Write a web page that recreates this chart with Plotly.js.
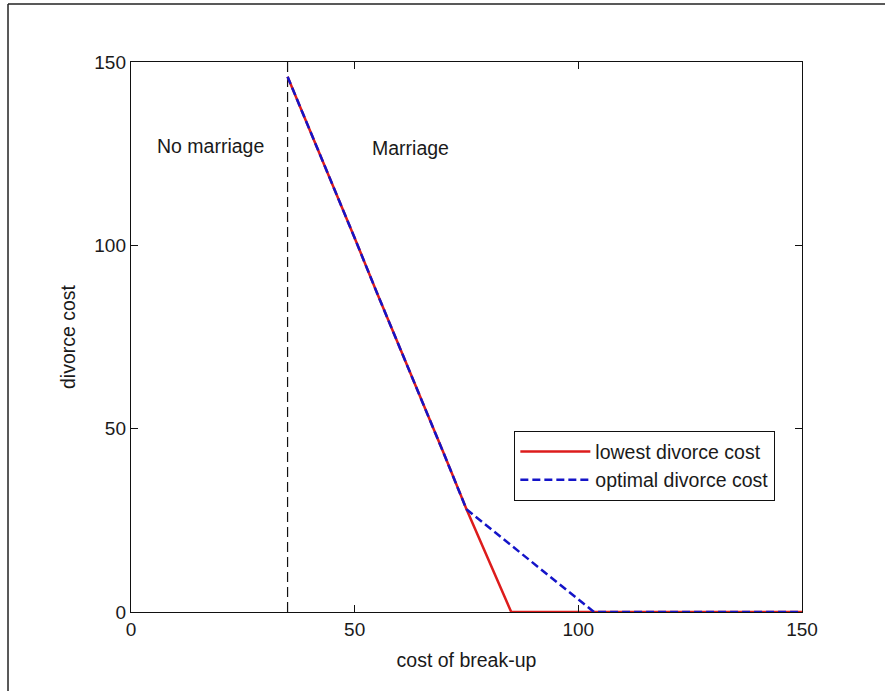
<!DOCTYPE html>
<html>
<head>
<meta charset="utf-8">
<script src="https://cdn.plot.ly/plotly-3.0.1.min.js"></script>
<style>html,body{margin:0;padding:0;background:#fff;}#chart{width:885px;height:691px;}</style>
</head>
<body>
<div id="chart"></div>
<script>
// Data
const lowestX = [35, 40, 45, 50, 55, 60, 65, 70, 75, 85, 150];
const lowestY = [146, 131.5, 117, 102, 87, 72.5, 58, 43, 28, 0, 0];
const optimalX = [35, 40, 45, 50, 55, 60, 65, 70, 75, 103.5, 150];
const optimalY = [146, 131.5, 117, 102, 87, 72.5, 58, 43, 28, 0, 0];
const boundaryX = [35, 35];
const boundaryY = [0, 150];
const seriesNames = ["lowest divorce cost", "optimal divorce cost"];
const regionLabels = ["No marriage", "Marriage"];
const regionLabelX = [17.7, 62.4];
const regionLabelY = [127, 126.6];
const tickVals = [0, 50, 100, 150];

const family = "Liberation Sans, Arial, sans-serif";
const font = {family: family, size: 19.5, color: "#1a1a1a"};
const tickFont = {family: family, size: 19, color: "#1a1a1a"};

const traces = [
  {x: boundaryX, y: boundaryY, mode: "lines", showlegend: false, hoverinfo: "skip",
   line: {color: "#111", width: 1.2, dash: "10px,5px"}},
  {x: lowestX, y: lowestY, mode: "lines", name: seriesNames[0],
   line: {color: "#dd1c1c", width: 2.5}},
  {x: optimalX, y: optimalY, mode: "lines", name: seriesNames[1],
   line: {color: "#1414c8", width: 2.5, dash: "8px,4px"}}
];

const axisCommon = {
  range: [0, 150], tickvals: tickVals, ticks: "inside", ticklen: 7, tickcolor: "#111",
  showline: true, linecolor: "#111", linewidth: 1.2, mirror: "ticks",
  showgrid: false, zeroline: false, tickfont: tickFont
};

const layout = {
  width: 885, height: 691,
  margin: {l: 131, r: 83, t: 62, b: 79},
  paper_bgcolor: "#fff", plot_bgcolor: "#fff",
  font: font,
  showlegend: true,
  xaxis: Object.assign({}, axisCommon, {title: {text: "cost of break-up", font: font, standoff: 14}}),
  yaxis: Object.assign({}, axisCommon, {title: {text: "divorce cost", font: font, standoff: 13}}),
  legend: {x: 0.571, y: 0.329, xanchor: "left", yanchor: "top", bgcolor: "#fff",
    bordercolor: "#111", borderwidth: 1.2, font: font, tracegroupgap: 0, itemwidth: 70},
  annotations: regionLabels.map((t, i) => ({x: regionLabelX[i], y: regionLabelY[i], xref: "x", yref: "y",
    text: t, showarrow: false, font: font})),
  shapes: [
    {type: "line", xref: "paper", yref: "paper", x0: -0.1833, x1: 1.2, y0: 1.1055, y1: 1.1055,
     line: {color: "#222", width: 1.5}},
    {type: "line", xref: "paper", yref: "paper", x0: -0.1833, x1: -0.1833, y0: -0.2, y1: 1.1055,
     line: {color: "#222", width: 1.5}}
  ]
};

Plotly.newPlot("chart", traces, layout, {displayModeBar: false, staticPlot: true});
</script>
</body>
</html>
